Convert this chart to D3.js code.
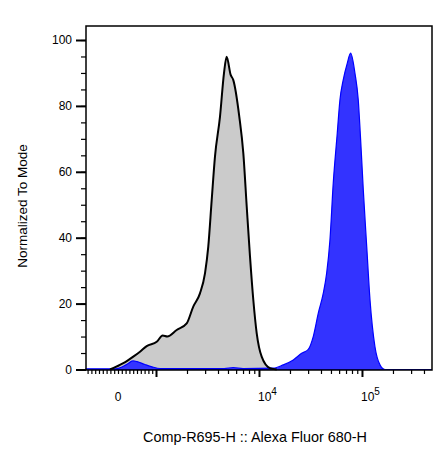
<!DOCTYPE html>
<html>
<head>
<meta charset="utf-8">
<script src="https://cdn.jsdelivr.net/npm/d3@7"></script>
<style>
  body { margin: 0; background: #fff; }
  text { font-family: "Liberation Sans", Arial, sans-serif; fill: #000; }
</style>
</head>
<body>
<div id="chart"></div>
<script>
// Histogram data: fluorescence (channel value) and % of mode
var grayX = [-210, 140, 402, 579, 755, 1016, 1161, 1287, 1588, 1986, 2301, 2673, 2990, 3218,
  3473, 3738, 4180, 4571, 4853, 5309, 5623, 6442, 7047, 7603, 8185, 8810, 9506, 10620, 12790, 14860];
var grayY = [0, 1.9, 3.9, 5.4, 7.1, 8.4, 10.3, 10.0, 12.0, 14.0, 19.1, 23.1, 29.2, 37.3,
  51.4, 64.6, 76.7, 89.9, 94.9, 89.4, 87.9, 76.7, 65.6, 49.4, 34.2, 21.1, 11.0, 3.9, 0.4, 0];

var blueX = [-840, -60, 210, 395, 500, 710, 895, 1094, 2673, 4600, 5623, 7000, 13770, 17220, 21530,
  25950, 30110, 33650, 37670, 42070, 45390, 48870, 52600, 57540, 61090, 65770, 71940, 77620,
  85510, 92040, 97050, 103000, 111200, 119700, 133700, 149600, 167100, 478000];
var blueY = [0.2, 0.2, 1.4, 2.6, 2.4, 1.5, 0.8, 0.3, 0.3, 0.3, 0.6, 0.3, 0.4, 1.4, 2.9,
  4.9, 6.1, 10.0, 17.1, 23.1, 29.2, 39.3, 56.5, 71.7, 81.8, 87.9, 92.9, 96.0,
  89.9, 81.8, 69.7, 54.5, 37.3, 21.1, 6.9, 1.4, 0, 0];

var yTicks = [0, 20, 40, 60, 80, 100];
var xLabels = [{v: 0, base: "0", exp: ""}, {v: 1e4, base: "10", exp: "4"}, {v: 1e5, base: "10", exp: "5"}];
var xMajor = [1e3, 1e4, 1e5];

// chart size
var svgWidth = 448;
var svgHeight = 463;
var margin = {top: 26, right: 16, bottom: 93, left: 86};
var width = svgWidth - margin.left - margin.right;
var height = svgHeight - margin.top - margin.bottom;

var svg = d3.select("#chart").append("svg")
  .attr("width", svgWidth)
  .attr("height", svgHeight);

var chartGroup = svg.append("g")
  .attr("transform", `translate(${margin.left}, ${margin.top})`);

// biexponential-ish display transform (in decades)
var K = 0.369;
function tf(v) {
  return v < 1000 ? v / 1000 * K : K + Math.log10(v / 1000);
}

var xScale = d3.scaleLinear().domain([tf(-842), tf(478600)]).range([0, width]);
var yScale = d3.scaleLinear().domain([0, 100]).range([height - 0.5, 14]);

var x = v => xScale(tf(v));

var area = d3.area()
  .x(d => x(d[0]))
  .y0(yScale(0))
  .y1(d => yScale(d[1]))
  .curve(d3.curveMonotoneX);
var line = d3.line()
  .x(d => x(d[0]))
  .y(d => yScale(d[1]))
  .curve(d3.curveMonotoneX);

var grayData = d3.zip(grayX, grayY);
var blueData = d3.zip(blueX, blueY);

chartGroup.append("path")
  .attr("d", area(grayData))
  .attr("fill", "#cbcbcb");

chartGroup.append("path")
  .attr("d", area(blueData))
  .attr("fill", "#3333ff")
  .attr("stroke", "#0000ff")
  .attr("stroke-width", 1.2);

chartGroup.append("path")
  .attr("d", line(grayData))
  .attr("fill", "none")
  .attr("stroke", "#000")
  .attr("stroke-width", 2);

// frame
chartGroup.append("rect")
  .attr("x", 0).attr("y", 0)
  .attr("width", width).attr("height", height)
  .attr("fill", "none")
  .attr("stroke", "#000")
  .attr("stroke-width", 1.5);

// y axis
var yMinor = d3.range(0, 101, 5);
chartGroup.append("g")
  .call(d3.axisLeft(yScale).tickValues(yMinor).tickSize(5).tickFormat(""))
  .call(g => g.select(".domain").remove())
  .call(g => g.selectAll("line").attr("stroke-width", 1.2));
chartGroup.append("g")
  .call(d3.axisLeft(yScale).tickValues(yTicks).tickSize(10).tickPadding(4))
  .call(g => g.select(".domain").remove())
  .call(g => g.selectAll("line").attr("stroke-width", 2))
  .call(g => g.selectAll("text").style("font-size", "12px").style("font-family", "Liberation Sans, Arial, sans-serif"));

// x axis
var xMinor = d3.range(-800, 1000, 100)
  .concat(d3.range(2, 10).map(d => d * 1e3))
  .concat(d3.range(2, 10).map(d => d * 1e4))
  .concat(d3.range(2, 5).map(d => d * 1e5));
var xAxisMinor = d3.axisBottom(xScale).tickValues(xMinor.map(tf)).tickSize(4).tickFormat("");
var xAxisMajor = d3.axisBottom(xScale).tickValues(xMajor.map(tf)).tickSize(7).tickFormat("");
chartGroup.append("g")
  .attr("transform", `translate(0, ${height})`)
  .call(xAxisMinor)
  .call(g => g.select(".domain").remove())
  .call(g => g.selectAll("line").attr("stroke-width", 1.2));
chartGroup.append("g")
  .attr("transform", `translate(0, ${height})`)
  .call(xAxisMajor)
  .call(g => g.select(".domain").remove())
  .call(g => g.selectAll("line").attr("stroke-width", 2));

var xl = chartGroup.append("g").selectAll("text")
  .data(xLabels)
  .enter()
  .append("text")
  .attr("x", d => d.exp ? x(d.v) - 1 : x(d.v))
  .attr("y", height + 31)
  .attr("text-anchor", d => d.exp ? "start" : "middle")
  .style("font-size", "12px");
xl.append("tspan").text(d => d.base);
xl.append("tspan")
  .attr("dy", -6)
  .style("font-size", "10px")
  .text(d => d.exp);

// axis titles
svg.append("text")
  .attr("x", 255)
  .attr("y", 442)
  .attr("text-anchor", "middle")
  .style("font-size", "14.4px")
  .text("Comp-R695-H :: Alexa Fluor 680-H");

svg.append("text")
  .attr("transform", "rotate(-90)")
  .attr("x", -206)
  .attr("y", 27)
  .attr("text-anchor", "middle")
  .style("font-size", "13.5px")
  .text("Normalized To Mode");
</script>
</body>
</html>
